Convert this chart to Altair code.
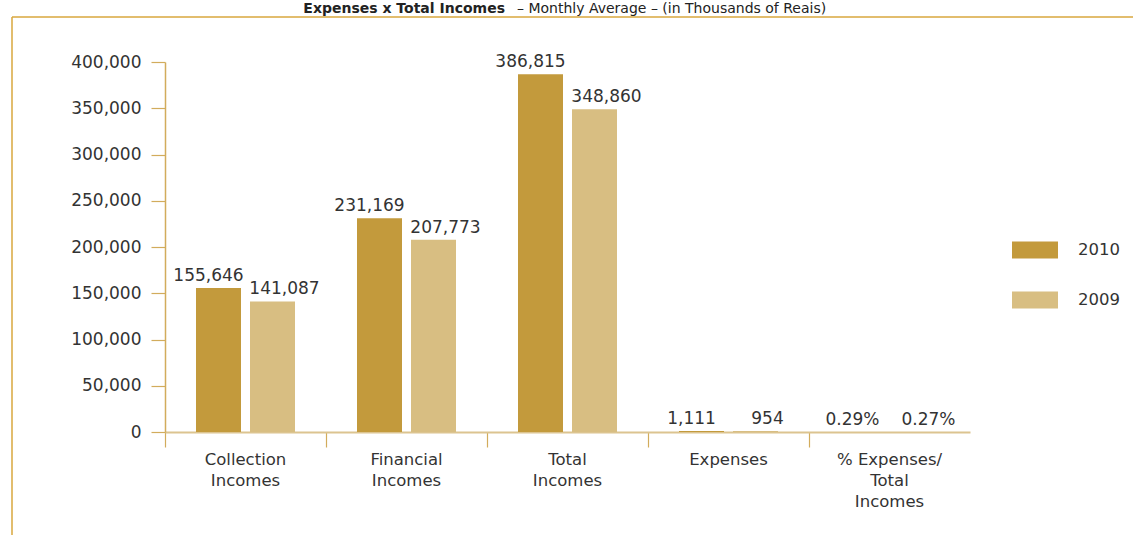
import altair as alt
import pandas as pd

categories = ["Collection\nIncomes", "Financial\nIncomes", "Total\nIncomes", "Expenses", "% Expenses/\nTotal\nIncomes"]
years = ["2010", "2009"]
values_2010 = [155646, 231169, 386815, 1111, 0.29]
values_2009 = [141087, 207773, 348860, 954, 0.27]
labels_2010 = ["155,646", "231,169", "386,815", "1,111", "0.29%"]
labels_2009 = ["141,087", "207,773", "348,860", "954", "0.27%"]
y_ticks = [0, 50000, 100000, 150000, 200000, 250000, 300000, 350000, 400000]
title_bold = "Expenses x Total Incomes"
title_rest = "\u2013 Monthly Average \u2013 (in Thousands of Reais)"

rows = []
for c, v, l in zip(categories, values_2010, labels_2010):
    rows.append({"category": c, "year": "2010", "value": v, "label": l})
for c, v, l in zip(categories, values_2009, labels_2009):
    rows.append({"category": c, "year": "2009", "value": v, "label": l})
df = pd.DataFrame(rows)

FONT = "DejaVu Sans"
C2010 = "#C39A3C"
C2009 = "#D8BE82"
GOLD = "#D2AC5C"
FRAME = "#D8A73E"
W, H = 805, 370
PAD = {"left": 165, "top": 62, "right": 163, "bottom": 103}

x_enc = alt.X("category:N", sort=categories,
              scale=alt.Scale(paddingInner=0, paddingOuter=0),
              axis=alt.Axis(title=None, labelAngle=0, bandPosition=0,
                            labelExpr="split(datum.value, '\\n')",
                            labelFont=FONT, labelFontSize=16.5, labelColor="#333333",
                            labelLineHeight=21, labelPadding=4, labelBaseline="top",
                            tickSize=15, tickColor=GOLD, tickWidth=1.2,
                            domainColor="#DCC490", domainWidth=2))
xo_enc = alt.XOffset("year:N", sort=years,
                     scale=alt.Scale(paddingInner=0.1667, paddingOuter=0.574))

base = alt.Chart(df)

bars = base.mark_bar().encode(
    x=x_enc,
    xOffset=xo_enc,
    y=alt.Y("value:Q", scale=alt.Scale(domain=[0, 400000], nice=False),
            axis=alt.Axis(title=None, values=y_ticks, format=",d", grid=False,
                          labelFont=FONT, labelFontSize=17, labelColor="#333333",
                          labelPadding=10, tickSize=14, tickColor=GOLD, tickWidth=1.2,
                          domainColor=GOLD, domainWidth=1.5)),
    color=alt.Color("year:N", sort=years,
                    scale=alt.Scale(domain=years, range=[C2010, C2009]),
                    legend=alt.Legend(title=None, orient="none", legendX=847, legendY=165,
                                      symbolType="M-1,-0.37L1,-0.37L1,0.37L-1,0.37Z",
                                      symbolSize=2116, symbolStrokeWidth=0,
                                      labelFont=FONT, labelFontSize=16.5, labelColor="#333333",
                                      labelOffset=20, rowPadding=18, padding=0)),
)

def label_layer(year, dx):
    return base.transform_filter(alt.datum.year == year).mark_text(
        font=FONT, fontSize=17, color="#333333", baseline="alphabetic", dy=-7, dx=dx
    ).encode(x=alt.X("category:N", sort=categories), xOffset=xo_enc,
             y="value:Q", text="label:N")

labels = label_layer("2010", -10) + label_layer("2009", 12)

title_df = pd.DataFrame({"a": [0]})
t1 = alt.Chart(title_df).mark_text(font=FONT, fontSize=14, fontWeight="bold", align="right",
                                   baseline="alphabetic", color="#222222").encode(
    x=alt.value(340), y=alt.value(-49), text=alt.value(title_bold))
t2 = alt.Chart(title_df).mark_text(font=FONT, fontSize=14, align="left",
                                   baseline="alphabetic", color="#222222").encode(
    x=alt.value(352), y=alt.value(-49), text=alt.value(title_rest))
frame_top = alt.Chart(title_df).mark_rule(color=FRAME, strokeWidth=1.5).encode(
    x=alt.value(-153), x2=alt.value(1000), y=alt.value(-45))
frame_left = alt.Chart(title_df).mark_rule(color=FRAME, strokeWidth=1.5).encode(
    x=alt.value(-153), y=alt.value(-45), y2=alt.value(500))

chart = alt.layer(bars, labels, t1, t2, frame_top, frame_left).properties(
    width=W, height=H,
    autosize=alt.AutoSizeParams(type="none"),
    padding=PAD,
    background="white",
).configure_view(stroke=None)

chart.save("out.html", embed_options={"renderer": "svg", "actions": False})
